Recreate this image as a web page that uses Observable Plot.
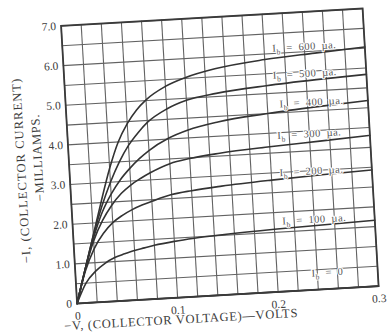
<!DOCTYPE html>
<html><head><meta charset="utf-8">
<script src="https://cdn.jsdelivr.net/npm/d3@7"></script>
<script src="https://cdn.jsdelivr.net/npm/@observablehq/plot@0.6"></script>
<style>
html,body{margin:0;padding:0;background:#fff;overflow:hidden}
#chart svg{transform:rotate(-3.3deg);transform-origin:194.5px 168px}
</style></head><body><div id="chart"></div>
<script>
// collector voltage samples (volts)
const volts = [0, 0.01, 0.02, 0.03, 0.04, 0.05, 0.06, 0.07, 0.08, 0.10, 0.12, 0.15, 0.20, 0.25, 0.30];
// collector current (mA) for each base current
const ib600 = [0, 0.85, 1.70, 2.55, 3.35, 4.00, 4.45, 4.78, 5.02, 5.33, 5.52, 5.70, 5.86, 5.95, 6.03];
const ib500 = [0, 0.85, 1.68, 2.40, 3.00, 3.50, 3.90, 4.20, 4.45, 4.76, 4.95, 5.08, 5.20, 5.28, 5.34];
const ib400 = [0, 0.85, 1.62, 2.25, 2.70, 3.05, 3.32, 3.55, 3.74, 4.02, 4.20, 4.36, 4.50, 4.60, 4.68];
const ib300 = [0, 0.85, 1.55, 2.05, 2.42, 2.70, 2.90, 3.05, 3.18, 3.38, 3.48, 3.57, 3.66, 3.73, 3.80];
const ib200 = [0, 0.80, 1.35, 1.72, 1.98, 2.15, 2.28, 2.38, 2.46, 2.60, 2.67, 2.74, 2.82, 2.88, 2.93];
const ib100 = [0, 0.50, 0.78, 0.97, 1.10, 1.18, 1.25, 1.30, 1.35, 1.42, 1.47, 1.52, 1.58, 1.62, 1.66];
const ib0   = [0, 0.00, 0.00, 0.00, 0.00, 0.00, 0.00, 0.00, 0.00, 0.00, 0.00, 0.00, 0.00, 0.00, 0.00];

const seriesNames = ["600", "500", "400", "300", "200", "100", "0"];
const seriesValues = [ib600, ib500, ib400, ib300, ib200, ib100, ib0];

const labelTexts = ["I_b = 600 µa.", "I_b = 500 µa.", "I_b = 400 µa.", "I_b = 300 µa.", "I_b = 200 µa.", "I_b = 100 µa.", "I_b = 0"];
const labelX = [0.240, 0.239, 0.244, 0.240, 0.240, 0.240, 0.250];
const labelY = [6.13, 5.45, 4.72, 3.93, 2.99, 1.77, 0.42];

const xTicks = [0, 0.1, 0.2, 0.3];
const xTickLabels = ["0", "0.1", "0.2", "0.3"];
const yTicks = [0, 1, 2, 3, 4, 5, 6, 7];
const yTickLabels = ["0", "1.0", "2.0", "3.0", "4.0", "5.0", "6.0", "7.0"];
const xGrid = [0, 0.02, 0.04, 0.06, 0.08, 0.10, 0.12, 0.14, 0.16, 0.18, 0.20, 0.22, 0.24, 0.26, 0.28, 0.30];
const yGrid = [0, 0.5, 1, 1.5, 2, 2.5, 3, 3.5, 4, 4.5, 5, 5.5, 6, 6.5, 7];

const xTitle = "−V, (COLLECTOR VOLTAGE)—VOLTS";
const yTitle1 = "−I, (COLLECTOR CURRENT)";
const yTitle2 = "−MILLIAMPS.";

const rows = seriesNames.flatMap((s, k) => volts.map((v, i) => ({s, v, c: seriesValues[k][i]})));
const labels = labelTexts.map((t, i) => ({t: t.replace(/ /g, "\u2002"), x: labelX[i], y: labelY[i]}));

const serif = "'Liberation Serif', 'DejaVu Serif', serif";
const ink = "#3c3c3c";

const chart = Plot.plot({
  width: 389, height: 336,
  marginLeft: 69, marginRight: 18, marginTop: 18, marginBottom: 40,
  style: {background: "transparent", fontFamily: serif},
  x: {domain: [0, 0.3]},
  y: {domain: [0, 7]},
  marks: [
    Plot.ruleX(xGrid, {stroke: "#626262", strokeWidth: 1.1}),
    Plot.ruleY(yGrid, {stroke: "#626262", strokeWidth: 1.1}),
    Plot.line(rows, {x: "v", y: "c", z: "s", stroke: "#333", strokeWidth: 1.6, curve: "monotone-x"}),
    Plot.text(labels, {x: "x", y: "y", text: "t", fontSize: 10.5, fill: "#555", stroke: "white", strokeWidth: 2, fontFamily: serif}),
    Plot.frame({stroke: "#3a3a3a", strokeWidth: 1.8}),
    Plot.axisX(xTicks, {tickSize: 0, tickPadding: 8, tickFormat: (d) => xTickLabels[xTicks.indexOf(d)], fontSize: 11.5, fill: ink, label: null}),
    Plot.axisY(yTicks, {tickSize: 0, tickPadding: 5, tickFormat: (d) => yTickLabels[yTicks.indexOf(d)], fontSize: 11.5, fill: ink, label: null}),
    Plot.text([xTitle], {frameAnchor: "bottom", textAnchor: "middle", dx: -48, dy: 26, fontSize: 12.5, fill: ink}),
    Plot.text([yTitle1], {frameAnchor: "left", textAnchor: "middle", rotate: -90, dx: -48, dy: 3, fontSize: 12.5, fill: ink}),
    Plot.text([yTitle2], {frameAnchor: "left", textAnchor: "middle", rotate: -90, dx: -31, dy: -9, fontSize: 12.5, fill: ink})
  ]
});

const ns = "http://www.w3.org/2000/svg";
chart.querySelectorAll("text").forEach(el => {
  const t = el.textContent;
  if (t.startsWith("I_b")) {
    // subscript "b" in the curve labels
    const rest = t.slice(3);
    el.textContent = "";
    el.appendChild(document.createTextNode("I"));
    const sub = document.createElementNS(ns, "tspan");
    sub.setAttribute("dy", "3"); sub.setAttribute("font-size", "7.5"); sub.textContent = "b";
    el.appendChild(sub);
    const r = document.createElementNS(ns, "tspan");
    r.setAttribute("dy", "-3"); r.textContent = rest;
    el.appendChild(r);
    el.style.letterSpacing = "0.5px";
  } else if (t === xTitle) {
    el.style.letterSpacing = "0.7px";
  } else if (t === yTitle1) {
    el.style.letterSpacing = "1.1px";
  } else if (t === yTitle2) {
    el.style.letterSpacing = "0.8px";
  }
});

document.getElementById("chart").appendChild(chart);
</script></body></html>
